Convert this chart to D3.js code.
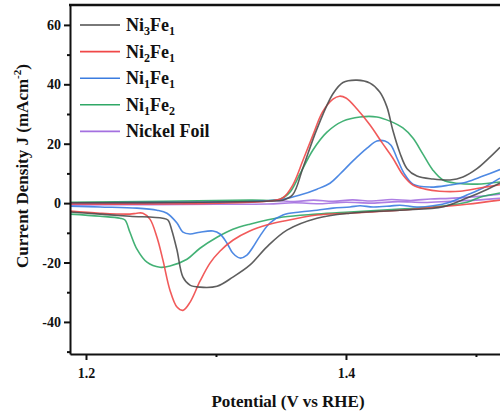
<!DOCTYPE html>
<html>
<head>
<meta charset="utf-8">
<script src="https://cdn.jsdelivr.net/npm/d3@7"></script>
<style>
  html, body { margin: 0; padding: 0; background: #fff; }
  svg { display: block; }
</style>
</head>
<body>
<svg id="chart" width="500" height="417"></svg>
<script>
// Cyclic voltammograms: each sample has an anodic (forward) and a cathodic (reverse) branch.
// Points are [potential V vs RHE, current density mA cm^-2].

const seriesNames = ["Ni3Fe1", "Ni2Fe1", "Ni1Fe1", "Ni1Fe2", "Nickel Foil"];
const seriesColors = ["#4d4d4d", "#f04848", "#3b7ce0", "#2fa866", "#a470e0"];

const ni3fe1Forward = [
  [1.1877, 0.1], [1.2877, 0.3], [1.3415, 0.7], [1.3515, 1.0], [1.359, 2.8],
  [1.367, 12.0], [1.3777, 25.0], [1.39, 36.8], [1.3977, 40.6], [1.4085, 41.4],
  [1.4185, 40.4], [1.426, 37.4], [1.4315, 32.4], [1.436, 24.6], [1.4415, 16.9],
  [1.447, 11.6], [1.4546, 9.1], [1.467, 8.1], [1.48, 7.8], [1.49, 8.8],
  [1.5008, 11.6], [1.5108, 15.5], [1.5185, 18.8]
];
const ni3fe1Reverse = [
  [1.5185, 6.8], [1.5085, 4.6], [1.493, 1.7], [1.475, -1.2], [1.4415, -2.4],
  [1.403, -3.4], [1.3777, -5.1], [1.3546, -9.1], [1.339, -14.8], [1.326, -20.9],
  [1.313, -24.9], [1.3008, -28.0], [1.2877, -28.3], [1.28, -27.6], [1.2746, -24.9],
  [1.27, -15.8], [1.266, -9.1], [1.263, -5.7], [1.259, -5.1], [1.2338, -4.4],
  [1.2108, -3.7], [1.1877, -3.0]
];

const ni2fe1Forward = [
  [1.1877, -0.3], [1.3415, 0.7], [1.3515, 1.8], [1.359, 6.0], [1.367, 14.5],
  [1.3746, 22.9], [1.382, 30.7], [1.39, 35.0], [1.395, 36.0], [1.4, 35.4],
  [1.4085, 31.7], [1.4185, 26.3], [1.428, 20.2], [1.436, 15.2], [1.444, 9.4],
  [1.4515, 6.1], [1.461, 4.7], [1.472, 4.0], [1.4877, 4.0], [1.503, 5.1],
  [1.5185, 6.2]
];
const ni2fe1Reverse = [
  [1.5185, 1.0], [1.493, -0.4], [1.467, -1.5], [1.4415, -2.4], [1.403, -3.4],
  [1.3777, -4.0], [1.3515, -6.1], [1.339, -7.4], [1.326, -9.4], [1.313, -12.5],
  [1.303, -16.2], [1.2954, -20.2], [1.2877, -26.3], [1.28, -33.4], [1.2746, -36.1],
  [1.27, -35.0], [1.2646, -29.3], [1.2592, -19.2], [1.2546, -11.5], [1.2492, -5.4],
  [1.2438, -3.4], [1.2392, -3.4], [1.2338, -3.7], [1.2108, -3.4], [1.1877, -2.7]
];

const ni1fe1Forward = [
  [1.1877, 0.0], [1.2877, 0.3], [1.326, 0.5], [1.3515, 1.3], [1.3646, 2.7],
  [1.3777, 4.7], [1.3877, 6.7], [1.3954, 9.8], [1.4054, 14.2], [1.4162, 18.5],
  [1.4238, 20.9], [1.43, 20.9], [1.4346, 19.5], [1.4392, 15.2], [1.4446, 10.1],
  [1.4515, 6.4], [1.4646, 5.4], [1.48, 6.1], [1.493, 7.1], [1.5054, 9.1],
  [1.5185, 11.3]
];
const ni1fe1Reverse = [
  [1.5185, 8.4], [1.5054, 5.1], [1.493, 2.7], [1.48, 0.3], [1.467, -0.9],
  [1.4546, -1.3], [1.4415, -0.7], [1.4338, -1.0], [1.4208, -1.3], [1.4108, -0.9],
  [1.4031, -1.3], [1.39, -1.7], [1.3777, -2.4], [1.3646, -3.0], [1.3515, -4.0],
  [1.3415, -6.7], [1.3338, -11.1], [1.3285, -14.8], [1.3238, -17.5], [1.3185, -18.5],
  [1.3131, -16.9], [1.3085, -13.5], [1.3031, -10.4], [1.2977, -9.4], [1.2877, -9.8],
  [1.28, -10.4], [1.2746, -9.8], [1.27, -6.7], [1.2623, -3.4], [1.2546, -2.4],
  [1.2392, -1.7], [1.2108, -1.3], [1.1877, -1.0]
];

const ni1fe2Forward = [
  [1.1877, 0.3], [1.326, 1.0], [1.3492, 1.3], [1.3569, 3.7], [1.3646, 9.8],
  [1.3746, 17.9], [1.3854, 23.9], [1.3977, 27.6], [1.4108, 29.0], [1.4238, 29.0],
  [1.4338, 27.6], [1.4438, 25.3], [1.4515, 21.9], [1.4592, 16.5], [1.4669, 11.1],
  [1.4746, 7.8], [1.4854, 6.7], [1.5008, 6.4], [1.5185, 7.1]
];
const ni1fe2Reverse = [
  [1.5185, 3.4], [1.5031, 2.0], [1.493, 0.3], [1.467, -1.3], [1.4415, -2.0],
  [1.403, -3.0], [1.3777, -3.7], [1.3515, -4.7], [1.326, -7.1], [1.313, -8.8],
  [1.3008, -11.5], [1.2877, -15.2], [1.2777, -18.9], [1.2646, -21.2], [1.2569, -21.6],
  [1.2469, -19.9], [1.2392, -15.5], [1.2338, -9.8], [1.23, -5.7], [1.2262, -5.1],
  [1.2108, -4.4], [1.1877, -3.7]
];

const nickelFoilForward = [
  [1.1877, -0.2], [1.25, 0.0], [1.3, 0.3], [1.33, 0.5], [1.345, 0.9], [1.36, 0.5],
  [1.375, 1.0], [1.39, 0.6], [1.405, 1.1], [1.42, 0.7], [1.435, 1.2], [1.45, 0.9],
  [1.465, 1.4], [1.48, 1.6], [1.5, 2.2], [1.5185, 3.0]
];
const nickelFoilReverse = [
  [1.5185, 1.6], [1.5, 1.0], [1.48, 0.6], [1.46, 0.2], [1.44, 0.5], [1.42, 0.0],
  [1.40, 0.3], [1.38, -0.2], [1.36, 0.1], [1.34, -0.3], [1.3, -0.4], [1.25, -0.5],
  [1.1877, -0.6]
];

const branches = [
  [ni3fe1Forward, ni3fe1Reverse],
  [ni2fe1Forward, ni2fe1Reverse],
  [ni1fe1Forward, ni1fe1Reverse],
  [ni1fe2Forward, ni1fe2Reverse],
  [nickelFoilForward, nickelFoilReverse]
];

const xTicks = [1.2, 1.4];
const xMinorTicks = [1.3, 1.5];
const yTicks = [-40, -20, 0, 20, 40, 60];
const yMinorTicks = [-50, -30, -10, 10, 30, 50];

const FONT = "'Liberation Serif', 'Times New Roman', 'DejaVu Serif', serif";

const svg = d3.select("#chart");
const plotLeft = 70, plotRight = 500, plotTop = 5, plotBottom = 354;

const x = d3.scaleLinear().domain([1.1877, 1.5185]).range([plotLeft, plotRight]);
const y = d3.scaleLinear().domain([-50.8, 66.7]).range([plotBottom, plotTop]);

svg.append("defs").append("clipPath").attr("id", "plotClip")
  .append("rect").attr("x", plotLeft).attr("y", plotTop)
  .attr("width", plotRight - plotLeft).attr("height", plotBottom - plotTop);

const line = d3.line().x(d => x(d[0])).y(d => y(d[1])).curve(d3.curveCatmullRom.alpha(0.5));

const plot = svg.append("g").attr("clip-path", "url(#plotClip)");
// draw back to front so the black trace ends on top of the others
const order = [4, 3, 2, 1, 0];
order.forEach(i => {
  branches[i].forEach(b => {
    plot.append("path")
      .attr("d", line(b))
      .attr("fill", "none")
      .attr("stroke", seriesColors[i])
      .attr("stroke-width", 1.6)
      .attr("stroke-opacity", 0.9)
      .attr("stroke-linejoin", "round");
  });
});

// Axes
function styleTicks(g) {
  g.attr("font-family", FONT).attr("font-weight", "bold").attr("font-size", 14);
  g.selectAll(".tick line").attr("stroke-width", 2).attr("stroke", "#111");
  g.selectAll(".tick text").attr("fill", "#111");
}

const xAxis = d3.axisBottom(x).tickValues(xTicks).tickFormat(d3.format(".1f")).tickSize(6).tickSizeOuter(0);
const gx = svg.append("g").attr("transform", `translate(0,${plotBottom})`).call(xAxis);
gx.select(".domain").attr("stroke-width", 2).attr("stroke", "#111");
styleTicks(gx);
gx.selectAll(".tick text").attr("dy", "1.05em");

const xMinor = d3.axisBottom(x).tickValues(xMinorTicks).tickFormat("").tickSize(3).tickSizeOuter(0);
const gxm = svg.append("g").attr("transform", `translate(0,${plotBottom})`).call(xMinor);
gxm.select(".domain").remove();
styleTicks(gxm);

// plain hyphen for negative labels
const yAxis = d3.axisLeft(y).tickValues(yTicks).tickFormat(d => String(d)).tickSize(6).tickSizeOuter(0);
const gy = svg.append("g").attr("transform", `translate(${plotLeft},0)`).call(yAxis);
gy.select(".domain").attr("stroke-width", 2).attr("stroke", "#111");
styleTicks(gy);
gy.selectAll(".tick text").attr("x", -9);

const yMinor = d3.axisLeft(y).tickValues(yMinorTicks).tickFormat("").tickSize(3).tickSizeOuter(0);
const gym = svg.append("g").attr("transform", `translate(${plotLeft},0)`).call(yMinor);
gym.select(".domain").remove();
styleTicks(gym);

// top frame line
svg.append("line").attr("x1", plotLeft - 1).attr("x2", plotRight).attr("y1", plotTop).attr("y2", plotTop)
  .attr("stroke", "#111").attr("stroke-width", 2.5);

// Text layer
const labels = svg.append("g").attr("font-family", FONT).attr("font-weight", "bold").attr("fill", "#111");

labels.append("text").attr("x", 288).attr("y", 407)
  .attr("text-anchor", "middle").attr("font-size", 17).text("Potential (V vs RHE)");

const yTitle = labels.append("text")
  .attr("transform", "translate(28,166) rotate(-90)")
  .attr("text-anchor", "middle").attr("font-size", 17);
yTitle.append("tspan").text("Current Density J (mAcm");
yTitle.append("tspan").attr("font-size", 11).attr("dy", -7).text("-2");
yTitle.append("tspan").attr("dy", 7).text(")");

// Legend
const legendLabels = [
  [["Ni", ""], ["3", "sub"], ["Fe", ""], ["1", "sub"]],
  [["Ni", ""], ["2", "sub"], ["Fe", ""], ["1", "sub"]],
  [["Ni", ""], ["1", "sub"], ["Fe", ""], ["1", "sub"]],
  [["Ni", ""], ["1", "sub"], ["Fe", ""], ["2", "sub"]],
  [["Nickel Foil", ""]]
];
const legendY0 = 25, legendStep = 26.6;
seriesNames.forEach((name, i) => {
  const ly = legendY0 + i * legendStep;
  svg.append("line").attr("x1", 80).attr("x2", 120).attr("y1", ly).attr("y2", ly)
    .attr("stroke", seriesColors[i]).attr("stroke-width", 1.6);
  const t = labels.append("text").attr("x", 126).attr("y", ly + 6).attr("font-size", 18);
  let shifted = false;
  legendLabels[i].forEach(([s, kind]) => {
    const sp = t.append("tspan").text(s);
    if (kind === "sub") {
      sp.attr("font-size", 12).attr("dy", shifted ? 0 : 4);
      shifted = true;
    } else if (shifted) {
      sp.attr("dy", -4);
      shifted = false;
    }
  });
});
</script>
</body>
</html>
